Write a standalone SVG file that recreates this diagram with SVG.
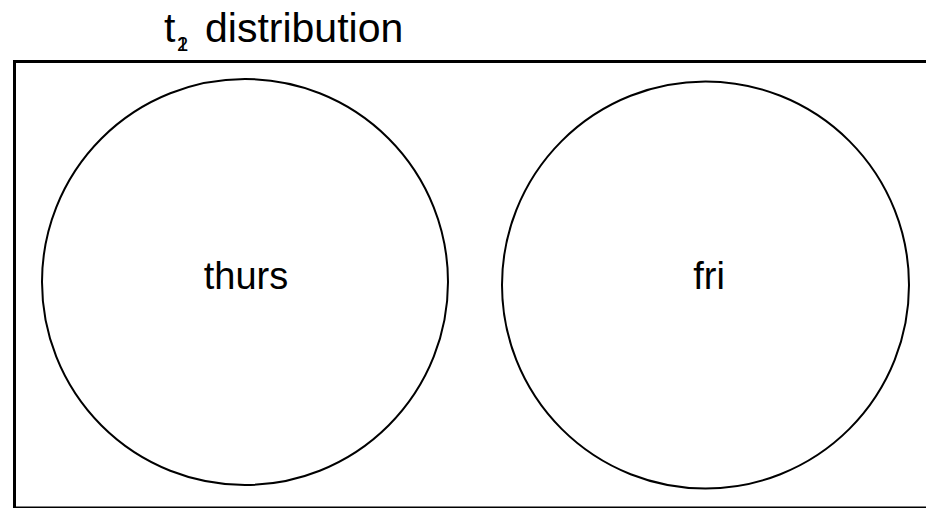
<svg xmlns="http://www.w3.org/2000/svg" width="926" height="508" viewBox="0 0 926 508">
<style>
.frame{fill:none;stroke:#000;stroke-width:3}
.node{fill:#fff;stroke:#000;stroke-width:2}
.lbl{font-family:"Liberation Sans",Arial,sans-serif;font-size:38px;fill:#000;text-anchor:middle}
.title{font-family:"Liberation Sans",Arial,sans-serif;font-size:41px;fill:#000}
.sub{font-family:"Liberation Sans",Arial,sans-serif;font-size:20px;fill:#000}
</style>
<rect width="926" height="508" fill="#fff"/>
<g id="title">
<text class="title" x="164" y="42">t</text>
<text class="sub" x="177" y="51">1</text>
<text class="sub" x="177" y="51">2</text>
<text class="title" x="205" y="42">distribution</text>
</g>
<rect class="frame" x="14.5" y="61.5" width="930" height="446.5"/>
<g id="thurs">
<circle class="node" cx="245" cy="282" r="203"/>
<text class="lbl" x="246" y="289">thurs</text>
</g>
<g id="fri">
<circle class="node" cx="705.5" cy="285" r="203.5"/>
<text class="lbl" x="709" y="289">fri</text>
</g>
<g id="connectors"></g>
</svg>
